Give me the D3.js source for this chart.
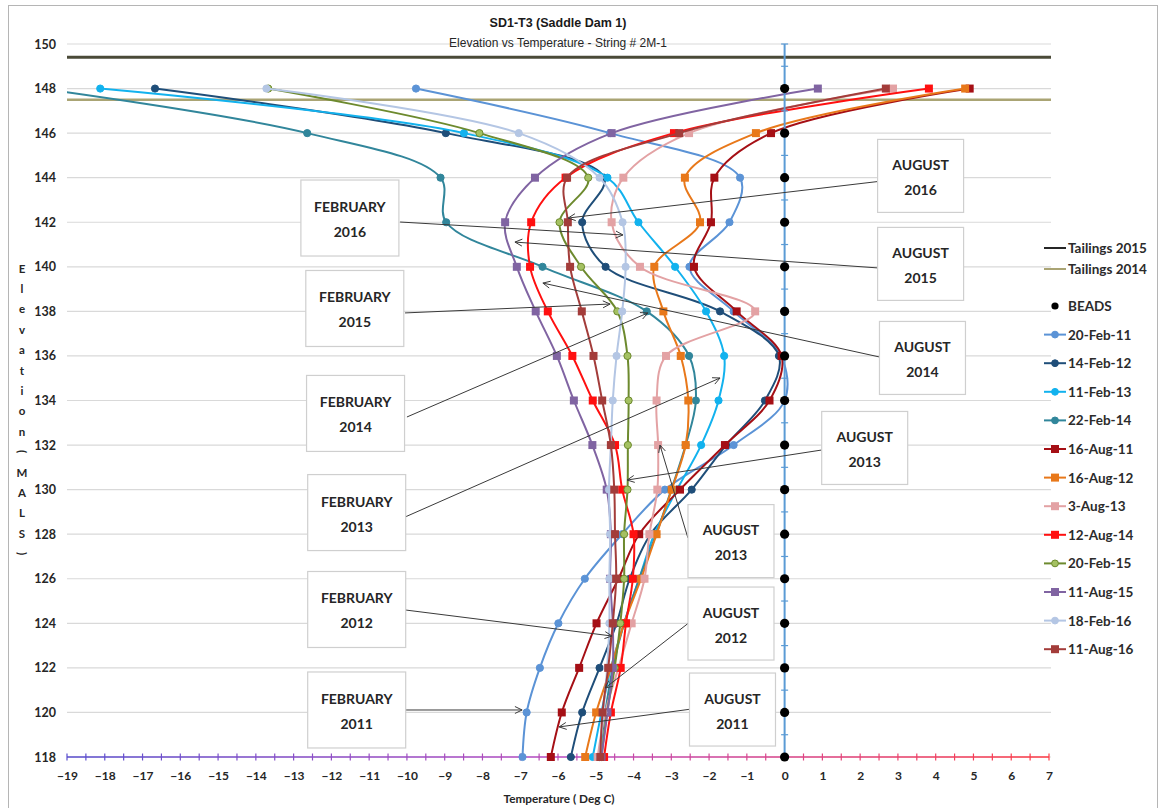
<!DOCTYPE html>
<html>
<head>
<meta charset="utf-8">
<script src="https://cdn.jsdelivr.net/npm/d3@7"></script>
<style>
  body { margin: 0; background: #fff; }
  svg { display: block; }
</style>
</head>
<body>
<svg id="chart" width="1162" height="808"></svg>
<script>
// Thermistor string readings: elevation (m) vs temperature (deg C)
const elevations = [148, 146, 144, 142, 140, 138, 136, 134, 132, 130, 128, 126, 124, 122, 120, 118];

const feb11 = [-9.76, -4.62, -1.18, -1.46, -2.52, -1.35, -0.10, 0.00, -1.35, -3.17, -4.30, -5.29, -5.99, -6.48, -6.83, -6.94];
const feb12 = [-16.67, -8.97, -4.78, -5.36, -4.74, -1.71, -0.15, -0.52, -1.55, -2.46, -3.55, -4.10, -4.45, -4.90, -5.36, -5.66];
const feb13 = [-18.12, -8.49, -4.69, -3.87, -2.90, -2.08, -1.60, -1.75, -2.21, -2.85, -3.45, -3.85, -4.25, -4.60, -4.85, -5.08];
const feb14 = [-19.70, -12.64, -9.11, -8.96, -6.41, -3.65, -2.53, -2.35, -2.62, -3.00, -3.40, -3.85, -4.25, -4.55, -4.75, -4.90];
const aug11 = [4.90, -0.36, -1.86, -1.95, -2.40, -1.27, -0.08, -0.40, -1.58, -2.77, -3.85, -4.40, -4.98, -5.44, -5.90, -6.19];
const aug12 = [4.78, -0.76, -2.64, -2.24, -3.45, -3.21, -2.75, -2.55, -2.62, -2.99, -3.39, -3.80, -4.25, -4.60, -4.99, -5.28];
const aug13 = [2.87, -2.53, -4.27, -4.58, -3.83, -0.78, -3.14, -3.39, -3.35, -3.37, -3.58, -3.71, -4.05, -4.40, -4.75, -4.95];
const aug14 = [3.82, -2.93, -5.80, -6.71, -6.74, -6.27, -5.62, -5.08, -4.49, -4.30, -4.00, -4.02, -4.20, -4.34, -4.60, -4.78];
const feb15 = [-13.67, -8.08, -5.20, -5.96, -5.39, -4.43, -4.16, -4.13, -4.15, -4.16, -4.25, -4.25, -4.35, -4.50, -4.70, -4.85];
const aug15 = [0.88, -4.58, -6.61, -7.40, -7.09, -6.59, -6.03, -5.58, -5.09, -4.71, -4.60, -4.62, -4.55, -4.55, -4.69, -4.85];
const feb16 = [-13.72, -7.04, -4.90, -4.29, -4.21, -4.30, -4.45, -4.55, -4.60, -4.65, -4.62, -4.64, -4.64, -4.70, -4.80, -4.90];
const aug16 = [2.68, -2.79, -5.76, -5.74, -5.68, -5.37, -5.06, -4.83, -4.60, -4.51, -4.49, -4.46, -4.55, -4.67, -4.82, -4.88];

// Bead positions sit on the 0 deg C line
const beadTemps = [0, 0, 0, 0, 0, 0, 0, 0, 0, 0, 0, 0, 0, 0, 0, 0];

const seriesNames = ["20-Feb-11", "14-Feb-12", "11-Feb-13", "22-Feb-14", "16-Aug-11", "16-Aug-12",
                     "3-Aug-13", "12-Aug-14", "20-Feb-15", "11-Aug-15", "18-Feb-16", "11-Aug-16"];
const seriesTemps = [feb11, feb12, feb13, feb14, aug11, aug12, aug13, aug14, feb15, aug15, feb16, aug16];

const tailingsNames = ["Tailings 2015", "Tailings 2014"];
const tailingsLevels = [149.4, 147.5];

const xTickValues = [-19, -18, -17, -16, -15, -14, -13, -12, -11, -10, -9, -8, -7, -6, -5, -4, -3, -2, -1, 0, 1, 2, 3, 4, 5, 6, 7];
const yTickValues = [118, 120, 122, 124, 126, 128, 130, 132, 134, 136, 138, 140, 142, 144, 146, 148, 150];

// Callout boxes: label lines, box centre, leader start and arrow tip (temperature, elevation)
const calloutLabels = [
  ["AUGUST", "2016"], ["FEBRUARY", "2016"], ["AUGUST", "2015"], ["FEBRUARY", "2015"],
  ["AUGUST", "2014"], ["FEBRUARY", "2014"], ["FEBRUARY", "2013"], ["AUGUST", "2013"],
  ["AUGUST", "2013"], ["FEBRUARY", "2012"], ["AUGUST", "2012"], ["FEBRUARY", "2011"], ["AUGUST", "2011"]
];
const calloutCentres = [
  [3.60, 144.08], [-11.51, 142.19], [3.60, 140.13], [-11.38, 138.13],
  [3.65, 135.91], [-11.36, 133.42], [-11.33, 128.97], [2.12, 131.87],
  [-1.42, 127.69], [-11.33, 124.62], [-1.42, 123.99], [-11.33, 120.11], [-1.38, 120.13]
];
const calloutFrom = [
  [2.48, 143.83], [-10.18, 142.01], [2.47, 139.95], [-10.05, 137.93],
  [2.52, 135.95], [-10.00, 133.26], [-10.05, 128.77], [0.99, 131.78],
  [-2.56, 127.83], [-10.05, 124.60], [-2.53, 124.03], [-10.05, 120.11], [-2.48, 120.15]
];
const calloutTo = [
  [-5.73, 142.19], [-4.28, 141.43], [-7.14, 141.11], [-4.62, 138.33],
  [-6.40, 139.27], [-3.62, 137.93], [-1.71, 135.01], [-4.17, 130.43],
  [-3.30, 132.00], [-4.57, 123.43], [-4.75, 121.10], [-6.95, 120.11], [-5.97, 119.35]
];

// ---- styling ----
const seriesColors = ["#5b93d6", "#1f4e79", "#12b2ee", "#31869b", "#a50f15", "#e8781a",
                      "#e3a2a4", "#ff1010", "#6d8a2e", "#8064a2", "#b4c6e4", "#a33c3a"];
const seriesFills  = ["#5b93d6", "#1f4e79", "#12b2ee", "#31869b", "#a50f15", "#e8781a",
                      "#e3a2a4", "#ff1010", "#a4c162", "#8064a2", "#b4c6e4", "#a33c3a"];
const seriesShapes = ["circle", "circle", "circle", "circle", "square", "square",
                      "square", "square", "circle", "square", "circle", "square"];
const tailingsColors = ["#4a4a38", "#aaa474"];

const W = 1162, H = 808;
const plot = { left: 67, right: 1049, top: 44, bottom: 757 };
const labelFont = "Lato, 'Open Sans', sans-serif";

const svg = d3.select("#chart");
const x = d3.scaleLinear().domain([-19, 7]).range([plot.left, plot.right]);
const y = d3.scaleLinear().domain([118, 150]).range([plot.bottom, plot.top]);

const defs = svg.append("defs");
defs.append("clipPath").attr("id", "plotClip")
  .append("rect").attr("x", plot.left).attr("y", 0).attr("width", plot.right - plot.left + 20).attr("height", H);
const grad = defs.append("linearGradient").attr("id", "axisGrad")
  .attr("gradientUnits", "userSpaceOnUse")
  .attr("x1", plot.left).attr("x2", plot.right).attr("y1", 0).attr("y2", 0);
grad.append("stop").attr("offset", "0%").attr("stop-color", "#5a4fcf");
grad.append("stop").attr("offset", "52%").attr("stop-color", "#c04fc4");
grad.append("stop").attr("offset", "100%").attr("stop-color", "#ff3b45");

// chart frame
svg.append("rect").attr("x", 8.5).attr("y", 5.5).attr("width", 1149).attr("height", 810)
  .attr("fill", "#fff").attr("stroke", "#b5b5b5");

// horizontal gridlines
svg.append("g").selectAll("line").data(yTickValues).join("line")
  .attr("x1", plot.left).attr("x2", 1051)
  .attr("y1", d => y(d)).attr("y2", d => y(d))
  .attr("stroke", "#d9d9d9").attr("stroke-width", 1.2);

// titles
svg.append("text").attr("x", 558).attr("y", 27).attr("text-anchor", "middle")
  .style("font", "bold 12.5px 'Liberation Sans', Arial, sans-serif").attr("fill", "#1a1a1a")
  .text("SD1-T3 (Saddle Dam 1)");
svg.append("text").attr("x", 558).attr("y", 47).attr("text-anchor", "middle")
  .style("font", "12px 'Liberation Sans', Arial, sans-serif").attr("fill", "#262626")
  .text("Elevation vs Temperature - String # 2M-1");

// y tick labels
const yAxis = svg.append("g").attr("transform", `translate(${plot.left},0)`)
  .call(d3.axisLeft(y).tickValues(yTickValues).tickSize(0).tickPadding(11).tickFormat(d3.format("d")));
yAxis.select(".domain").remove();
yAxis.selectAll("text").style("font", `bold 12.5px ${labelFont}`).attr("fill", "#262626");

// x tick labels
const xAxis = svg.append("g").attr("transform", `translate(0,${plot.bottom})`)
  .call(d3.axisBottom(x).tickValues(xTickValues).tickSize(0).tickPadding(14).tickFormat(d3.format("d")));
xAxis.select(".domain").remove();
xAxis.selectAll("text").style("font", `bold 12px ${labelFont}`).attr("fill", "#262626");

// axis titles
svg.append("text").attr("x", 559).attr("y", 803).attr("text-anchor", "middle")
  .style("font", `bold 11.8px ${labelFont}`).attr("fill", "#262626")
  .text("Temperature ( Deg C)");
const yTitle = "Elevation(MALS)".split("");
const yTitleG = svg.append("g");
yTitle.forEach((ch, i) => {
  const cy = 268 + i * 20.4;
  const t = yTitleG.append("text").attr("x", 22).attr("y", cy).attr("text-anchor", "middle")
    .attr("dominant-baseline", "central")
    .style("font", `bold 11.5px ${labelFont}`).attr("fill", "#262626").text(ch);
  if (ch === "(" || ch === ")") t.attr("transform", `rotate(90,22,${cy})`);
});

// tailings levels
svg.append("g").selectAll("line").data(tailingsLevels).join("line")
  .attr("x1", plot.left).attr("x2", 1051)
  .attr("y1", d => y(d)).attr("y2", d => y(d))
  .attr("stroke", (d, i) => tailingsColors[i]).attr("stroke-width", (d, i) => i === 0 ? 3 : 2.5);

// x axis line at the base elevation with half-degree ticks
svg.append("line").attr("x1", plot.left).attr("x2", plot.right)
  .attr("y1", plot.bottom).attr("y2", plot.bottom)
  .attr("stroke", "url(#axisGrad)").attr("stroke-width", 1.6);
const halfTicks = d3.range(0, 53).map(i => -19 + i * 0.5);
svg.append("g").selectAll("line").data(halfTicks).join("line")
  .attr("x1", d => x(d)).attr("x2", d => x(d))
  .attr("y1", plot.bottom - 3.5).attr("y2", plot.bottom + 3.5)
  .attr("stroke", d => d3.interpolateRgbBasis(["#5a4fcf", "#c04fc4", "#ff3b45"])((d + 19) / 26))
  .attr("stroke-width", 1.2);

// temperature profiles
const line = d3.line()
  .x(d => x(d[0])).y(d => y(d[1]))
  .curve(d3.curveCatmullRom.alpha(0.5));
const seriesG = svg.append("g").attr("clip-path", "url(#plotClip)");
seriesTemps.forEach((temps, i) => {
  const pts = temps.map((t, k) => [t, elevations[k]]);
  const g = seriesG.append("g");
  g.append("path").attr("d", line(pts)).attr("fill", "none")
    .attr("stroke", seriesColors[i]).attr("stroke-width", 2);
  const vis = pts.filter(p => p[0] >= -19);
  if (seriesShapes[i] === "circle") {
    g.selectAll("circle").data(vis).join("circle")
      .attr("cx", d => x(d[0])).attr("cy", d => y(d[1])).attr("r", 3.6)
      .attr("fill", seriesFills[i]).attr("stroke", seriesColors[i]).attr("stroke-width", 1);
  } else {
    g.selectAll("rect").data(vis).join("rect")
      .attr("x", d => x(d[0]) - 4).attr("y", d => y(d[1]) - 4)
      .attr("width", 8).attr("height", 8)
      .attr("fill", seriesFills[i]);
  }
});

// zero-degree line with unit ticks
svg.append("line").attr("x1", x(0)).attr("x2", x(0)).attr("y1", y(150)).attr("y2", y(118))
  .attr("stroke", "#5b9bd5").attr("stroke-width", 2);
const unitTicks = d3.range(118, 151);
svg.append("g").selectAll("line").data(unitTicks).join("line")
  .attr("x1", x(0) - 3.5).attr("x2", x(0) + 3.5)
  .attr("y1", d => y(d)).attr("y2", d => y(d))
  .attr("stroke", "#5b9bd5").attr("stroke-width", 1.2);

// beads
svg.append("g").selectAll("circle").data(beadTemps.map((t, k) => [t, elevations[k]])).join("circle")
  .attr("cx", d => x(d[0])).attr("cy", d => y(d[1])).attr("r", 4.6).attr("fill", "#000");

// callouts
const calloutG = svg.append("g");
calloutLabels.forEach((lbl, i) => {
  const isFeb = lbl[0] === "FEBRUARY";
  const bw = isFeb ? 98 : 86, bh = isFeb ? 76 : 73;
  const cx = x(calloutCentres[i][0]), cy = y(calloutCentres[i][1]);
  const fx = x(calloutFrom[i][0]), fy = y(calloutFrom[i][1]);
  const tx = x(calloutTo[i][0]), ty = y(calloutTo[i][1]);
  const g = calloutG.append("g");
  g.append("line").attr("x1", fx).attr("y1", fy).attr("x2", tx).attr("y2", ty)
    .attr("stroke", "#3a3a3a").attr("stroke-width", 1);
  const ang = Math.atan2(fy - ty, fx - tx);
  [0.45, -0.45].forEach(da => {
    g.append("line").attr("x1", tx).attr("y1", ty)
      .attr("x2", tx + 8 * Math.cos(ang + da)).attr("y2", ty + 8 * Math.sin(ang + da))
      .attr("stroke", "#3a3a3a").attr("stroke-width", 1);
  });
  g.append("rect").attr("x", cx - bw / 2).attr("y", cy - bh / 2).attr("width", bw).attr("height", bh)
    .attr("fill", "#fff").attr("stroke", "#cfcfcf").attr("stroke-width", 1.2);
  lbl.forEach((s, k) => {
    g.append("text").attr("x", cx).attr("y", cy - 6 + k * 25).attr("text-anchor", "middle")
      .style("font", `bold 14px ${labelFont}`).attr("fill", "#262626").text(s);
  });
});

// legend
const legendNames = tailingsNames.concat(["BEADS"], seriesNames);
const legendG = svg.append("g");
legendNames.forEach((name, i) => {
  const ly = i === 0 ? 248 : i === 1 ? 269 : 306 + (i - 2) * 28.6;
  const g = legendG.append("g");
  if (i < 2) {
    g.append("line").attr("x1", 1044).attr("x2", 1066).attr("y1", ly).attr("y2", ly)
      .attr("stroke", i === 0 ? "#262626" : tailingsColors[1]).attr("stroke-width", 2);
  } else if (i === 2) {
    g.append("circle").attr("cx", 1055).attr("cy", ly).attr("r", 3.6).attr("fill", "#000");
  } else {
    const s = i - 3;
    g.append("line").attr("x1", 1044).attr("x2", 1066).attr("y1", ly).attr("y2", ly)
      .attr("stroke", seriesColors[s]).attr("stroke-width", 2);
    if (seriesShapes[s] === "circle") {
      g.append("circle").attr("cx", 1055).attr("cy", ly).attr("r", 3.4)
        .attr("fill", seriesFills[s]).attr("stroke", seriesColors[s]);
    } else {
      g.append("rect").attr("x", 1051).attr("y", ly - 4).attr("width", 8).attr("height", 8)
        .attr("fill", seriesFills[s]);
    }
  }
  g.append("text").attr("x", 1068).attr("y", ly).attr("dominant-baseline", "central")
    .style("font", `bold 13.5px ${labelFont}`).attr("fill", "#2b2b2b").text(name);
});
</script>
</body>
</html>
